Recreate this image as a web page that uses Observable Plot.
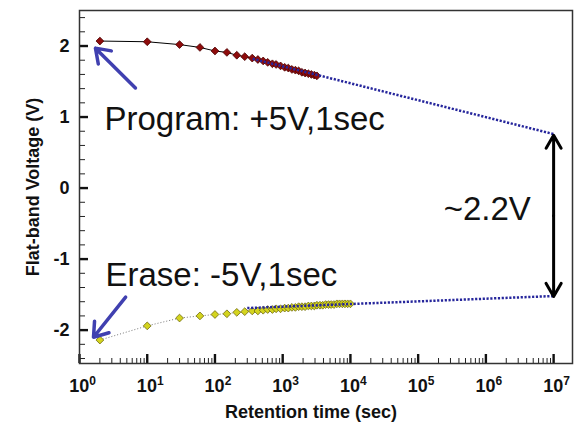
<!DOCTYPE html>
<html><head><meta charset="utf-8">
<script src="https://cdn.jsdelivr.net/npm/d3@7"></script>
<script src="https://cdn.jsdelivr.net/npm/@observablehq/plot@0.6"></script>
<style>body{margin:0;background:#fff}</style>
</head><body><div id="chart"></div>
<script>
// ---- data ----
const programTime = [2, 10, 30, 60, 100, 150, 210, 275, 355, 430, 515, 600, 705, 800, 930, 1070, 1210, 1370, 1540, 1720, 1920, 2140, 2390, 2650, 2930, 3200];
const programVoltage = [2.07, 2.06, 2.02, 1.98, 1.93, 1.91, 1.87, 1.85, 1.83, 1.81, 1.79, 1.77, 1.75, 1.74, 1.72, 1.70, 1.69, 1.67, 1.66, 1.65, 1.63, 1.62, 1.61, 1.60, 1.59, 1.58];
const eraseTime = [2, 10, 30, 60, 100, 150, 210, 275, 355, 430, 515, 600, 705, 800, 930, 1070, 1210, 1370, 1540, 1720, 1920, 2140, 2390, 2650, 2930, 3200, 3550, 3900, 4300, 4750, 5200, 5700, 6300, 6900, 7600, 8300, 9100, 10000];
const eraseVoltage = [-2.14, -1.94, -1.83, -1.80, -1.78, -1.77, -1.75, -1.74, -1.73, -1.73, -1.72, -1.71, -1.71, -1.70, -1.70, -1.69, -1.69, -1.68, -1.68, -1.67, -1.67, -1.67, -1.66, -1.66, -1.66, -1.65, -1.65, -1.65, -1.64, -1.64, -1.64, -1.64, -1.63, -1.63, -1.63, -1.63, -1.63, -1.63];
const programFitTime = [360, 1e7];
const programFitVoltage = [1.82, 0.76];
const eraseFitTime = [300, 1e7];
const eraseFitVoltage = [-1.69, -1.52];
const xTickValues = [1, 10, 100, 1000, 1e4, 1e5, 1e6, 1e7];
const yTickValues = [-2, -1, 0, 1, 2];
const xLabel = "Retention time (sec)";
const yLabel = "Flat-band Voltage (V)";
const annotationText = ["Program: +5V,1sec", "Erase: -5V,1sec", "~2.2V"];
const annotationTime = [2.34, 2.42, 2.38e5];
const annotationVoltage = [0.96, -1.237, -0.307];
// arrows: [tail time, tail V, head time, head V]
const blueArrows = [[6.7, 1.41, 1.72, 1.97], [4.8, -1.535, 1.61, -2.10]];
const gapArrows = [[1e7, -0.39, 1e7, 0.745], [1e7, -0.39, 1e7, -1.525]];

// ---- tables ----
const program = programTime.map((t, i) => ({t, v: programVoltage[i]}));
const erase = eraseTime.map((t, i) => ({t, v: eraseVoltage[i]}));
const programFit = programFitTime.map((t, i) => ({t, v: programFitVoltage[i]}));
const eraseFit = eraseFitTime.map((t, i) => ({t, v: eraseFitVoltage[i]}));
const annotations = annotationText.map((text, i) => ({text, t: annotationTime[i], v: annotationVoltage[i]}));
const toArrow = a => ({x1: a[0], y1: a[1], x2: a[2], y2: a[3]});

const xMinor = [];
for (let e = 0; e < 7; e++) for (let k = 2; k <= 9; k++) xMinor.push(k * Math.pow(10, e));
const yMinor = d3.range(-24, 25, 2).filter(d => d % 10 !== 0).map(d => d / 10);

const W = 574, H = 431, mt = 10, mb = 68, ml = 79, mr = 2;
const innerW = W - ml - mr, innerH = H - mt - mb;
const FONT = "'Liberation Sans', Arial, Helvetica, sans-serif";
const fitStyle = {x: "t", y: "v", stroke: "#26269c", strokeWidth: 2.5, strokeDasharray: "2.2 1.6", strokeLinecap: "butt"};

const chart = Plot.plot({
  width: W, height: H,
  marginTop: mt, marginBottom: mb, marginLeft: ml, marginRight: mr,
  style: {fontFamily: FONT, background: "#fff", color: "#111", overflow: "visible"},
  x: {type: "log", domain: [1, 1.9e7]},
  y: {domain: [-2.47, 2.5]},
  marks: [
    Plot.tickX(xMinor, {x: d => d, insetTop: innerH - 5, stroke: "#222", strokeWidth: 1}),
    Plot.tickX(xTickValues, {x: d => d, insetTop: innerH - 9, stroke: "#111", strokeWidth: 2.4}),
    Plot.tickY(yMinor, {y: d => d, insetRight: innerW - 6, stroke: "#222", strokeWidth: 1}),
    Plot.tickY(yTickValues, {y: d => d, insetRight: innerW - 9, stroke: "#111", strokeWidth: 2.4}),
    Plot.axisX({ticks: xTickValues, tickSize: 0, tickPadding: 16, label: null,
      tickFormat: d => "10^" + Math.round(Math.log10(d)), fontSize: 18, fontWeight: "bold"}),
    Plot.axisY({ticks: yTickValues, tickSize: 0, tickPadding: 10, label: null,
      tickFormat: d => String(d), fontSize: 18, fontWeight: "bold"}),
    Plot.frame({stroke: "#333", strokeWidth: 1.5}),
    Plot.line(erase, {x: "t", y: "v", stroke: "#777", strokeWidth: 1, strokeDasharray: "1 2", strokeLinecap: "butt"}),
    Plot.line(program, {x: "t", y: "v", stroke: "#000", strokeWidth: 1}),
    Plot.dot(program, {x: "t", y: "v", symbol: "diamond2", r: 3.5, fill: "#8e0c0c", stroke: "#4a0000", strokeWidth: 0.8}),
    Plot.dot(erase, {x: "t", y: "v", symbol: "diamond2", r: 3.5, fill: "#d4d41e", stroke: "#6e6a10", strokeWidth: 0.8}),
    Plot.line(programFit, fitStyle),
    Plot.line(eraseFit, fitStyle),
    Plot.arrow(blueArrows.map(toArrow), {x1: "x1", y1: "y1", x2: "x2", y2: "y2", stroke: "#4040b0", strokeWidth: 3.5, headLength: 6.9, headAngle: 70}),
    Plot.arrow(gapArrows.map(toArrow), {x1: "x1", y1: "y1", x2: "x2", y2: "y2", stroke: "#000", strokeWidth: 3, headLength: 7.5, headAngle: 60}),
    Plot.text(annotations, {x: "t", y: "v", text: "text", textAnchor: "start", fontSize: 33, fill: "#111"}),
    Plot.text([yLabel], {text: d => d, frameAnchor: "middle", textAnchor: "middle", lineAnchor: "middle", dx: -(innerW / 2 + 46), rotate: -90, fontSize: 18, fontWeight: "bold", fill: "#111"}),
    Plot.text([xLabel], {text: d => d, frameAnchor: "bottom", textAnchor: "middle", lineAnchor: "middle", dx: -15, dy: 49, fontSize: 18, fontWeight: "bold", fill: "#111"})
  ]
});

const ns = "http://www.w3.org/2000/svg";
chart.querySelectorAll('g[aria-label="x-axis tick label"] text').forEach(t => {
  const parts = t.textContent.split("^");
  if (parts.length !== 2) return;
  t.textContent = "";
  const a = document.createElementNS(ns, "tspan");
  a.textContent = parts[0];
  const b = document.createElementNS(ns, "tspan");
  b.textContent = parts[1];
  b.setAttribute("dy", "-7");
  b.setAttribute("font-size", "12");
  t.append(a, b);
  const tr = t.getAttribute("transform") || "";
  t.setAttribute("transform", tr + " translate(3,0)");
});
document.getElementById("chart").append(chart);

// make sure the rotated y-axis title is centred on the plot frame
const yTitle = [...chart.querySelectorAll("text")].find(t => t.textContent === yLabel);
if (yTitle) {
  yTitle.setAttribute("text-anchor", "middle");
  const svgBox = chart.getBoundingClientRect();
  const box = yTitle.getBoundingClientRect();
  const centre = box.top - svgBox.top + box.height / 2;
  const want = mt + innerH / 2;
  const delta = want - centre;
  if (Math.abs(delta) > 2) {
    const g = yTitle.parentNode;
    g.setAttribute("transform", (g.getAttribute("transform") || "") + ` translate(0,${delta})`);
  }
}
</script>
</body></html>
